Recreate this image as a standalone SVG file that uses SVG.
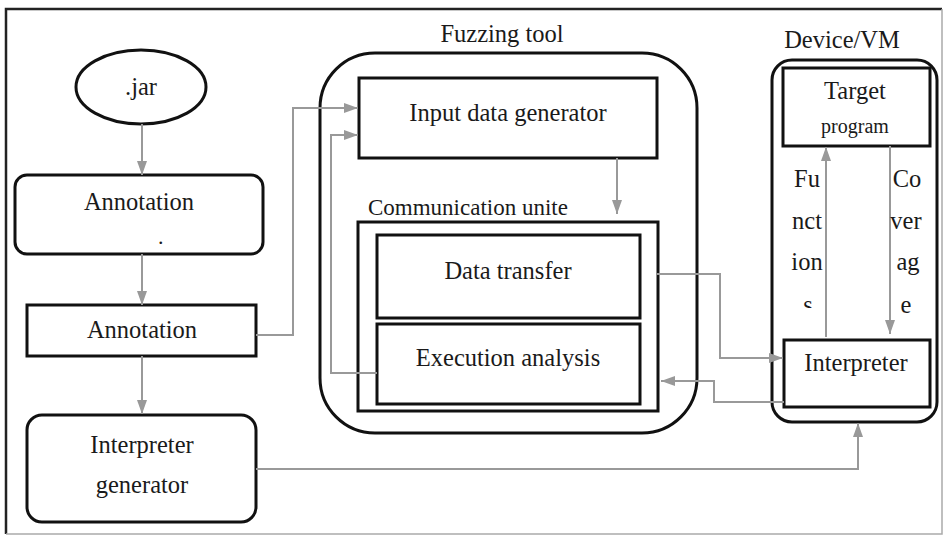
<svg xmlns="http://www.w3.org/2000/svg" width="946" height="537" viewBox="0 0 946 537">
  <defs>
    <marker id="arrow" markerUnits="userSpaceOnUse" markerWidth="14" markerHeight="10" refX="14" refY="5" orient="auto">
      <path d="M0,0 L14,5 L0,10 z" fill="#999"/>
    </marker>
    <clipPath id="clip-s">
      <rect x="790" y="290" width="40" height="18"/>
    </clipPath>
  </defs>
  <style>
    .box { fill: #fff; stroke: #111; stroke-width: 3; }
    .group { fill: none; stroke: #111; stroke-width: 3; }
    .conn { fill: none; stroke: #999; stroke-width: 2; marker-end: url(#arrow); }
    .t { font-family: 'Liberation Serif', 'DejaVu Serif', 'Times New Roman', Times, serif; font-size: 24.5px; fill: #1a1a1a; }
    .c { text-anchor: middle; }
    .small { font-size: 20px; }
    .mid { font-size: 23px; }
    .dot { font-size: 22px; }
  </style>

  <rect width="946" height="537" fill="#fff"/>

  <!-- page frame -->
  <g id="frame">
    <path d="M6,534 V9 H942" fill="none" stroke="#222" stroke-width="2.5"/>
    <path d="M942,9 V534 H6" fill="none" stroke="#aaa" stroke-width="1.5"/>
  </g>

  <!-- containers -->
  <g id="fuzzing-tool">
    <rect class="group" x="320" y="53" width="377" height="380" rx="55"/>
    <text class="t c" x="502" y="42">Fuzzing tool</text>
  </g>
  <g id="device-vm">
    <rect class="group" x="772" y="60" width="165" height="362" rx="20"/>
    <text class="t c" x="842" y="48">Device/VM</text>
  </g>
  <g id="communication-unit">
    <rect class="box" x="358" y="222" width="300" height="189"/>
    <text class="t mid" x="368" y="215">Communication unite</text>
  </g>

  <!-- left column -->
  <g id="jar">
    <ellipse cx="141" cy="87" rx="65" ry="37" fill="#fff" stroke="#111" stroke-width="3"/>
    <text class="t c" x="141" y="95">.jar</text>
  </g>
  <g id="annotation-1">
    <rect class="box" x="15" y="175" width="248" height="79" rx="12"/>
    <text class="t c" x="139" y="210">Annotation</text>
    <text class="t dot" x="158" y="244">.</text>
  </g>
  <g id="annotation-2">
    <rect class="box" x="27" y="305" width="229" height="51"/>
    <text class="t c" x="142" y="338">Annotation</text>
  </g>
  <g id="interpreter-generator">
    <rect class="box" x="27" y="415" width="229" height="107" rx="15"/>
    <text class="t c" x="142" y="453">Interpreter</text>
    <text class="t c" x="142" y="493">generator</text>
  </g>

  <!-- fuzzing tool parts -->
  <g id="input-data-generator">
    <rect class="box" x="359" y="78" width="298" height="80"/>
    <text class="t c" x="508" y="121">Input data generator</text>
  </g>
  <g id="data-transfer">
    <rect class="box" x="377" y="235" width="263" height="83"/>
    <text class="t c" x="508" y="279">Data transfer</text>
  </g>
  <g id="execution-analysis">
    <rect class="box" x="377" y="324" width="263" height="80"/>
    <text class="t c" x="508" y="366">Execution analysis</text>
  </g>

  <!-- device parts -->
  <g id="target-program">
    <rect class="box" x="783" y="68" width="147" height="78"/>
    <text class="t c" x="855" y="99">Target</text>
    <text class="t c small" x="855" y="133">program</text>
  </g>
  <g id="interpreter">
    <rect class="box" x="784" y="340" width="146" height="67"/>
    <text class="t c" x="856" y="371">Interpreter</text>
  </g>

  <!-- connectors -->
  <g id="connectors">
    <path class="conn" d="M142,124 V175"/>
    <path class="conn" d="M142,254 V305"/>
    <path class="conn" d="M142,356 V414"/>
    <path class="conn" d="M256,335 H293 V108 H358"/>
    <path class="conn" d="M377,373 H331 V135 H358"/>
    <path class="conn" d="M617,158 V214"/>
    <path class="conn" d="M657,274 H720 V358 H783"/>
    <path class="conn" d="M784,402 H714 V381 H661"/>
    <path class="conn" d="M256,469 H858 V423"/>
    <path class="conn" d="M826,337 V147"/>
    <path class="conn" d="M890,146 V334"/>
  </g>

  <!-- connector labels -->
  <g id="label-functions">
    <text class="t c" x="807" y="187">Fu</text>
    <text class="t c" x="807" y="229">nct</text>
    <text class="t c" x="807" y="270">ion</text>
    <text class="t c" x="808" y="313" clip-path="url(#clip-s)">s</text>
  </g>
  <g id="label-coverage">
    <text class="t c" x="907" y="187">Co</text>
    <text class="t c" x="906" y="229">ver</text>
    <text class="t c" x="908" y="270">ag</text>
    <text class="t c" x="906" y="313">e</text>
  </g>
</svg>
